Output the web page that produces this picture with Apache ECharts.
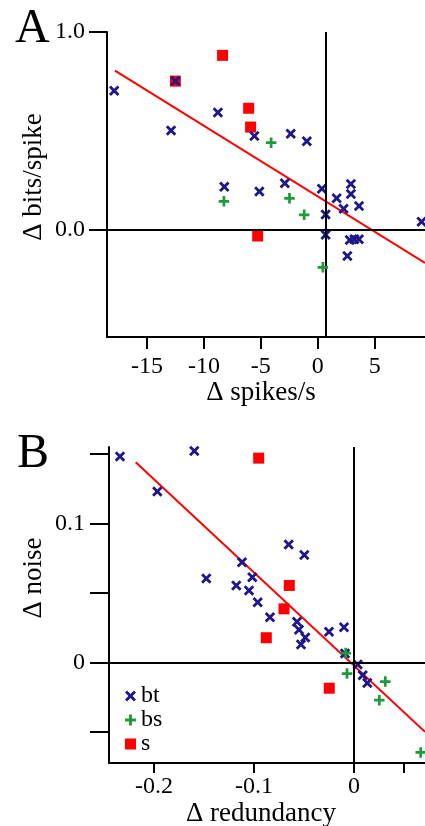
<!DOCTYPE html>
<html><head><meta charset="utf-8">
<script src="https://cdn.jsdelivr.net/npm/echarts@6/dist/echarts.min.js"></script>
<style>html,body{margin:0;padding:0;background:#fff}#c{width:425px;height:826px}</style>
</head><body><div id="c"></div>
<script>
// ---- Panel A: Δ spikes/s (x) vs Δ bits/spike (y)
const aBt = [[-17.87,0.703],[-12.5,0.752],[-12.88,0.503],[-8.77,0.594],[-5.57,0.475],[-2.38,0.486],[-0.97,0.448],
  [-8.21,0.219],[-5.13,0.195],[-2.9,0.236],[0.35,0.209],[1.65,0.160],[2.9,0.232],[2.9,0.182],
  [3.61,0.121],[2.26,0.108],[0.68,0.079],[0.68,-0.024],[2.8,-0.05],[3.2,-0.047],[3.6,-0.047],[2.59,-0.131],[9.1,0.042]];
const aBs = [[-4.1,0.441],[-8.24,0.145],[-2.49,0.160],[-1.2,0.077],[0.44,-0.188]];
const aS = [[-8.36,0.882],[-12.5,0.752],[-6.07,0.615],[-5.9,0.520],[-5.28,-0.030]];
const aFitSlope = -0.0357, aFitIntercept = 0.170, aFitRange = [-17.8, 9.4];
const aXTicks = [-15,-10,-5,0,5];
const aYTicks = [0,1];
const aVLine = 0.65;

// ---- Panel B: Δ redundancy (x) vs Δ noise (y)
const bBt = [[-0.234,0.1482],[-0.1597,0.1523],[-0.1967,0.1231],[-0.0653,0.0849],[-0.0497,0.0775],[-0.112,0.0722],
  [-0.1477,0.0605],[-0.1017,0.0614],[-0.1177,0.0555],[-0.105,0.0519],[-0.0963,0.0435],[-0.084,0.0327],
  [-0.057,0.0294],[-0.055,0.0237],[-0.0487,0.0181],[-0.053,0.0131],[-0.025,0.0222],[-0.010,0.0255],
  [-0.009,0.0065],[0.0037,-0.0014],[0.0087,-0.0091],[0.0133,-0.0146]];
const bBs = [[-0.0083,0.0069],[-0.007,-0.0079],[0.0313,-0.0136],[0.0253,-0.0270],[0.0667,-0.0646]];
const bS = [[-0.0953,0.1471],[-0.0647,0.0555],[-0.070,0.0387],[-0.0877,0.0179],[-0.0247,-0.0184]];
const bFitSlope = -0.6706, bFitIntercept = -0.0022, bFitRange = [-0.2183, 0.071];
const bXTickLabels = [-0.2,-0.1,0];
const bXTicks = [-0.2,-0.1,0,0.05];
const bYTickLabels = [0,0.1];
const bYTicks = [-0.05,0,0.05,0.1,0.15];

const FONT = '"Liberation Serif", "DejaVu Serif", serif';
const PLUS = 'path://M3.7,0H6.3V3.7H10V6.3H6.3V10H3.7V6.3H0V3.7H3.7Z';
const CROSS = 'path://M0,1.9L1.9,0L5,3.1L8.1,0L10,1.9L6.9,5L10,8.1L8.1,10L5,6.9L1.9,10L0,8.1L3.1,5Z';
const C_BT = '#1f1789', C_BS = '#1f9a3a', C_S = '#ff0000';

function fitLine(slope, icpt, range){ return range.map(x => [x, slope*x + icpt]); }

function axisBase(tickLen, labelMargin){
  return {
    axisLine:{onZero:false, lineStyle:{color:'#000', width:2}},
    axisTick:{length:tickLen, lineStyle:{color:'#000', width:2}},
    axisLabel:{margin:labelMargin, color:'#000', fontFamily:FONT, fontSize:24},
    splitLine:{show:false}
  };
}
function xA(){ const o = axisBase(12, 18); o.type='value'; o.gridIndex=0; o.min=-18.5; o.max=9.4;
  o.axisTick.customValues = aXTicks; o.axisLabel.customValues = aXTicks; return o; }
function yA(){ const o = axisBase(18, 22); o.type='value'; o.gridIndex=0; o.min=-0.54; o.max=1.0;
  o.axisTick.customValues = aYTicks; o.axisLabel.customValues = aYTicks;
  o.axisLabel.formatter = v => v.toFixed(1); return o; }
function xB(){ const o = axisBase(10, 12); o.type='value'; o.gridIndex=1; o.min=-0.245; o.max=0.071;
  o.axisTick.customValues = bXTicks; o.axisLabel.customValues = bXTickLabels; return o; }
function yB(){ const o = axisBase(19, 24); o.type='value'; o.gridIndex=1; o.min=-0.0722; o.max=0.1551;
  o.axisTick.customValues = bYTicks; o.axisLabel.customValues = bYTickLabels; return o; }

function scatterSet(idx, bt, bs, s){
  return [
    {name:'s', type:'scatter', xAxisIndex:idx, yAxisIndex:idx, data:s, symbol:'rect', symbolSize:11,
      itemStyle:{color:C_S, opacity:1}, z:3},
    {name:'bt', type:'scatter', xAxisIndex:idx, yAxisIndex:idx, data:bt, symbol:CROSS, symbolSize:10.5,
      itemStyle:{color:C_BT, opacity:1}, z:4},
    {name:'bs', type:'scatter', xAxisIndex:idx, yAxisIndex:idx, data:bs, symbol:PLUS, symbolSize:10.5,
      itemStyle:{color:C_BS, opacity:1}, z:5}
  ];
}
function fitSeries(idx, data, vline){
  return {type:'line', xAxisIndex:idx, yAxisIndex:idx, data:data, showSymbol:false, symbol:'none',
    lineStyle:{color:'#ff0000', width:2}, z:2, silent:true,
    markLine:{silent:true, symbol:['none','none'], label:{show:false}, animation:false,
      lineStyle:{color:'#000', width:2, type:'solid'},
      data:[{xAxis:vline},{yAxis:0}]}};
}

const chart = echarts.init(document.getElementById('c'), null, {renderer:'canvas'});
chart.setOption({
  animation:false,
  backgroundColor:'#fff',
  grid:[{left:107, top:32, width:318, height:305},{left:109, top:447, width:316, height:316}],
  xAxis:[xA(), xB()],
  yAxis:[yA(), yB()],
  legend:{data:['bt','bs','s'], orient:'vertical', left:125, top:684, itemWidth:11, itemHeight:11, itemGap:0,
    padding:0, textStyle:{fontFamily:FONT, fontSize:24, color:'#000'}, selectedMode:false},
  graphic:[
    {type:'text', x:15, y:29, style:{text:'A', font:'48px "Liberation Serif", serif', fill:'#000', textAlign:'left', textVerticalAlign:'middle'}},
    {type:'text', x:17, y:454, style:{text:'B', font:'48px "Liberation Serif", serif', fill:'#000', textAlign:'left', textVerticalAlign:'middle'}},
    {type:'text', x:261, y:393, style:{text:'Δ spikes/s', font:'27px "Liberation Serif", serif', fill:'#000', textAlign:'center', textVerticalAlign:'middle'}},
    {type:'text', x:34, y:177, rotation:Math.PI/2, style:{text:'Δ bits/spike', font:'27px "Liberation Serif", serif', fill:'#000', textAlign:'center', textVerticalAlign:'middle'}},
    {type:'text', x:34, y:578, rotation:Math.PI/2, style:{text:'Δ noise', font:'27px "Liberation Serif", serif', fill:'#000', textAlign:'center', textVerticalAlign:'middle'}},
    {type:'text', x:261, y:814, style:{text:'Δ redundancy', font:'27px "Liberation Serif", serif', fill:'#000', textAlign:'center', textVerticalAlign:'middle'}}
  ],
  series:[
    fitSeries(0, fitLine(aFitSlope, aFitIntercept, aFitRange), aVLine),
    ...scatterSet(0, aBt, aBs, aS),
    fitSeries(1, fitLine(bFitSlope, bFitIntercept, bFitRange), 0),
    ...scatterSet(1, bBt, bBs, bS)
  ]
});
</script></body></html>
